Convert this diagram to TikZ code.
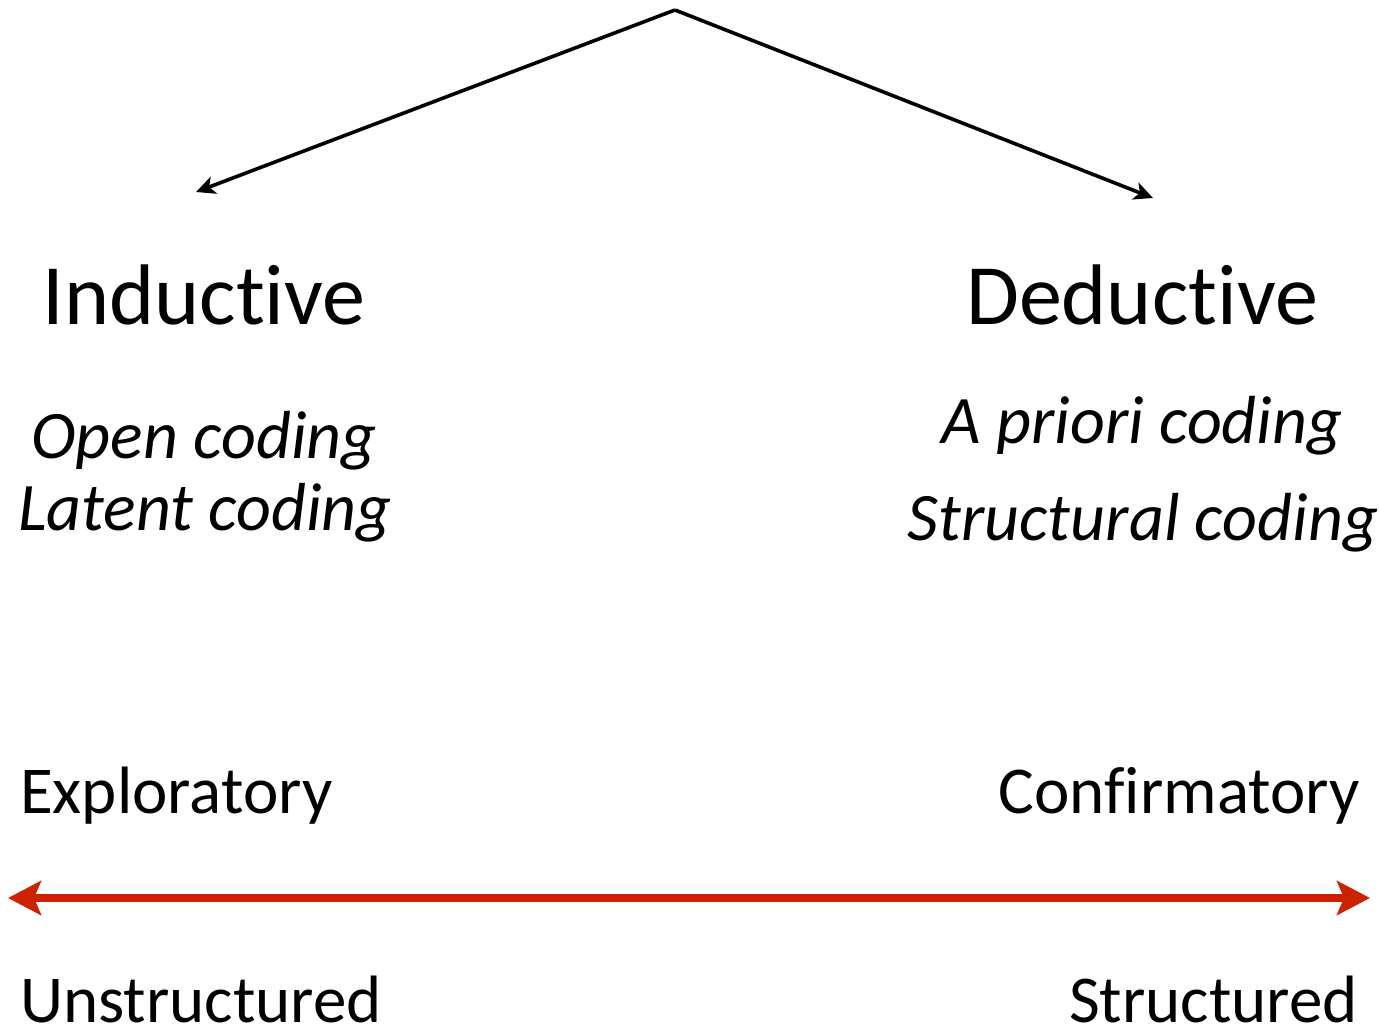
\documentclass[tikz,border=0pt]{standalone}
\usepackage{fontspec}
\setmainfont[Ligatures=NoCommon]{Carlito}
\usetikzlibrary{arrows.meta}
\definecolor{axisred}{RGB}{204,34,0}

\tikzset{
  head/.style={font=\fontsize{86}{90}\selectfont, inner sep=0pt, anchor=base},
  method/.style={font=\fontsize{68}{72}\selectfont\itshape, inner sep=0pt, anchor=base},
  pole/.style={font=\fontsize{67}{70}\selectfont, inner sep=0pt},
  branch/.style={line width=3.6pt, -{Stealth[length=19pt, width=18pt, inset=5pt]}},
  scale axis/.style={line width=8pt, color=axisred,
    {Stealth[length=33pt, width=34pt, inset=7pt]}-{Stealth[length=33pt, width=34pt, inset=7pt]}}
}

\begin{document}
\begin{tikzpicture}[x=1pt, y=-1pt]
\useasboundingbox (0,0) rectangle (1379,1031);

% the split at the top
\coordinate (apex) at (675,10);
\coordinate (indtip) at (196,192);
\coordinate (dedtip) at (1153,198);
\draw[branch] (apex) -- (indtip);
\draw[branch] (apex) -- (dedtip);

% two approaches
\node[head] (ind) at (204,324) {Inductive};
\node[head] (ded) at (1142,324) {Deductive};

\node[method] (open)   at (204,458) {Open coding};
\node[method] (latent) at (205,530) {Latent coding};
\node[method] (prior)  at (1142,443) {A priori coding};
\node[method] (struct) at (1143,540) {Structural coding};

% continuum
\node[pole, anchor=base west] (expl) at (20,813) {Exploratory};
\node[pole, anchor=base east] (conf) at (1360,813) {Confirmatory};

\coordinate (axl) at (8,898);
\coordinate (axr) at (1370,898);
\draw[scale axis] (axl) -- (axr);

\node[pole, anchor=base west] (unstr) at (20,1022) {Unstructured};
\node[pole, anchor=base east] (str) at (1358,1022) {Structured};
\end{tikzpicture}
\end{document}
